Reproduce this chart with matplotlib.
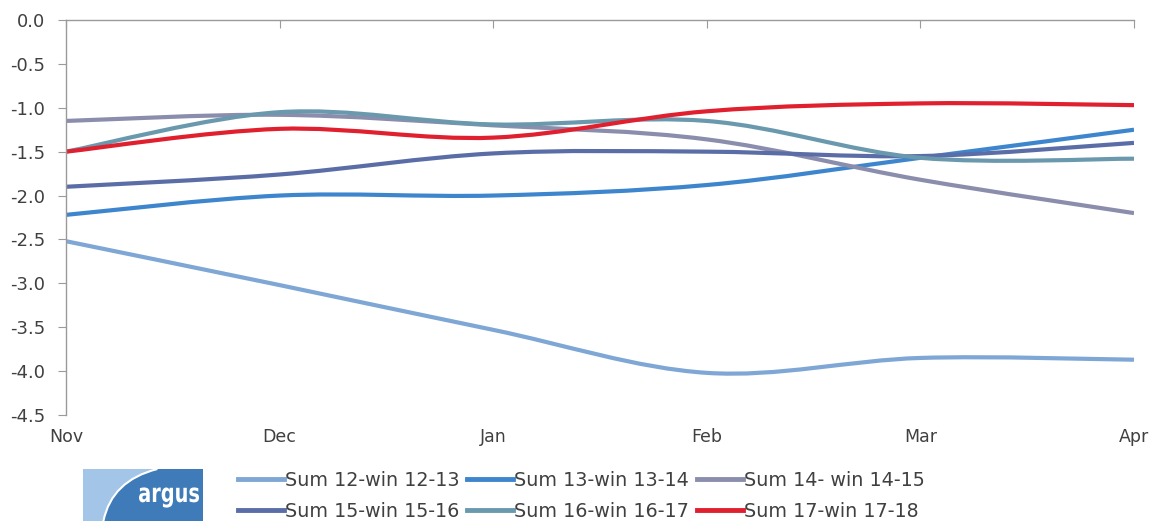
import matplotlib
matplotlib.use("Agg")
import matplotlib.pyplot as plt
from matplotlib.path import Path
from matplotlib.patches import PathPatch, Rectangle
from matplotlib.lines import Line2D
from matplotlib.textpath import TextPath
from matplotlib.font_manager import FontProperties
from matplotlib.transforms import Affine2D, IdentityTransform

months = ["Nov", "Dec", "Jan", "Feb", "Mar", "Apr"]
series_names = ["Sum 12-win 12-13", "Sum 13-win 13-14", "Sum 14- win 14-15",
                "Sum 15-win 15-16", "Sum 16-win 16-17", "Sum 17-win 17-18"]
s12 = [-2.52, -3.02, -3.53, -4.02, -3.85, -3.87]
s13 = [-2.22, -2.00, -2.00, -1.88, -1.57, -1.25]
s14 = [-1.15, -1.08, -1.20, -1.36, -1.82, -2.20]
s15 = [-1.90, -1.76, -1.52, -1.50, -1.55, -1.40]
s16 = [-1.50, -1.05, -1.19, -1.15, -1.57, -1.58]
s17 = [-1.50, -1.24, -1.34, -1.04, -0.95, -0.97]
yticks = [0.0, -0.5, -1.0, -1.5, -2.0, -2.5, -3.0, -3.5, -4.0, -4.5]

colors = ["#7fa7d5", "#3d86cd", "#8b8dac", "#5a6da6", "#6a99ae", "#e0202e"]
all_series = [s12, s13, s14, s15, s16, s17]

fig = plt.figure(figsize=(11.51, 5.21), dpi=100)
ax = fig.add_axes([66/1151, 1-415/521, (1134-66)/1151, (415-20)/521])


def smooth_path(xs, ys):
    n = len(xs)
    verts = [(xs[0], ys[0])]
    codes = [Path.MOVETO]
    for i in range(n - 1):
        a = i - 1 if i > 0 else i
        d = i + 2 if i + 2 < n else i + 1
        c1 = (xs[i] + (xs[i+1] - xs[a]) / 6.0, ys[i] + (ys[i+1] - ys[a]) / 6.0)
        c2 = (xs[i+1] - (xs[d] - xs[i]) / 6.0, ys[i+1] - (ys[d] - ys[i]) / 6.0)
        verts += [c1, c2, (xs[i+1], ys[i+1])]
        codes += [Path.CURVE4] * 3
    return Path(verts, codes)


xpos = list(range(len(months)))
handles = []
for vals, col, name in zip(all_series, colors, series_names):
    ax.add_patch(PathPatch(smooth_path(xpos, vals), fill=False, edgecolor=col,
                           lw=3.0, capstyle="butt", joinstyle="round"))
    handles.append(Line2D([], [], color=col, lw=3.5, label=name))

ax.set_xlim(0, len(months) - 1)
ax.set_ylim(-4.5, 0.0)
ax.set_yticks(yticks)
ax.set_yticklabels([f"{v:.1f}" for v in yticks])
ax.set_xticks(xpos)
ax.set_xticklabels(months)

for s in ["right", "bottom"]:
    ax.spines[s].set_visible(False)
for s in ["top", "left"]:
    ax.spines[s].set_color("#9a9a9a")
    ax.spines[s].set_linewidth(1.0)

ax.tick_params(axis="x", top=True, bottom=False, labeltop=False, labelbottom=True,
               direction="in", length=6, color="#9a9a9a", pad=9,
               labelsize=12.5, labelcolor="#404040")
ax.tick_params(axis="y", direction="out", length=6, color="#9a9a9a", pad=9,
               labelsize=13, labelcolor="#404040")

order = [0, 3, 1, 4, 2, 5]
leg = fig.legend([handles[i] for i in order], [series_names[i] for i in order],
                 loc="upper left", bbox_to_anchor=(238/1151, 1-471/521), ncol=3,
                 frameon=False, fontsize=13.8, handlelength=2.4, handletextpad=0.05,
                 columnspacing=0.4, labelspacing=0.62, borderaxespad=0,
                 borderpad=0)
for t in leg.get_texts():
    t.set_color("#404040")

# argus logo
lax = fig.add_axes([83/1151, 0, 120/1151, 52/521])
lax.set_xlim(0, 1)
lax.set_ylim(0, 1)
lax.axis("off")
lax.add_patch(Rectangle((0, 0), 1, 1, facecolor="#a3c5e7", edgecolor="none"))
curve = Path([(0.17, 0.0), (0.24, 0.78), (0.62, 1.0), (1, 1), (1, 0), (0.17, 0.0)],
             [Path.MOVETO, Path.CURVE3, Path.CURVE3, Path.LINETO, Path.LINETO, Path.CLOSEPOLY])
lax.add_patch(PathPatch(curve, facecolor="#3f7bb8", edgecolor="none"))
arc = Path([(0.17, 0.0), (0.24, 0.78), (0.62, 1.0)], [Path.MOVETO, Path.CURVE3, Path.CURVE3])
lax.add_patch(PathPatch(arc, facecolor="none", edgecolor="white", lw=1.5))

tp = TextPath((0, 0), "argus", size=26, prop=FontProperties(family="DejaVu Sans", weight="bold"))
ext = tp.get_extents()
sx = 60.0 / ext.width
tr = Affine2D().translate(-ext.x0, 0).scale(sx, 1.0).translate(139, 521 - 502)
fig.patches.append(PathPatch(tp, facecolor="white", edgecolor="none",
                             transform=tr + IdentityTransform(), figure=fig))

fig.savefig("out.png", dpi=100)
